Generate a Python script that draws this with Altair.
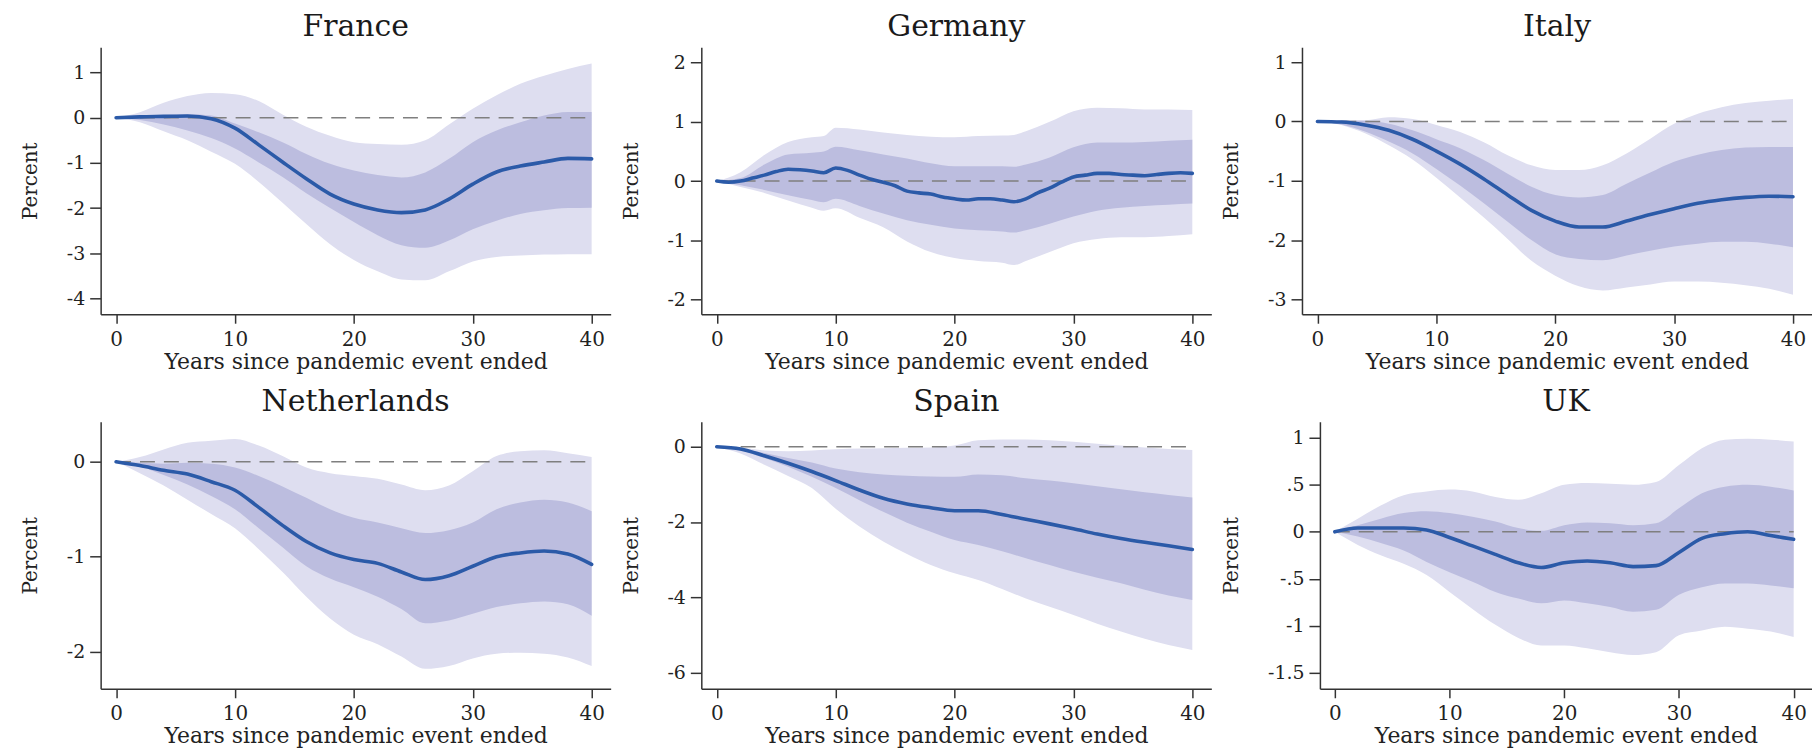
import altair as alt
import pandas as pd

# ---------------- data ----------------
YEARS = [0, 2, 4, 6, 8, 10, 12, 14, 16, 18, 20, 22, 24, 26, 28, 30, 32, 34, 36, 38, 40]

FR_MEAN = [0, 0.02, 0.03, 0.04, -0.02, -0.23, -0.6, -0.98, -1.35, -1.69, -1.91, -2.04, -2.1, -2.04, -1.8, -1.47, -1.2, -1.07, -0.98, -0.9, -0.91]
FR_IN_HI = [0, 0.02, 0.06, 0.08, 0.05, -0.13, -0.32, -0.54, -0.8, -1.02, -1.17, -1.27, -1.32, -1.21, -0.91, -0.54, -0.28, -0.1, 0.05, 0.13, 0.13]
FR_IN_LO = [0, -0.05, -0.15, -0.28, -0.45, -0.68, -0.99, -1.31, -1.67, -2.0, -2.31, -2.6, -2.82, -2.88, -2.72, -2.47, -2.28, -2.13, -2.05, -2.0, -1.99]
FR_OUT_HI = [0, 0.12, 0.33, 0.48, 0.55, 0.52, 0.37, 0.07, -0.2, -0.4, -0.54, -0.58, -0.6, -0.5, -0.15, 0.2, 0.5, 0.75, 0.93, 1.08, 1.2]
FR_OUT_LO = [0, -0.1, -0.3, -0.5, -0.75, -1.02, -1.42, -1.88, -2.35, -2.8, -3.15, -3.4, -3.58, -3.6, -3.4, -3.18, -3.08, -3.05, -3.03, -3.02, -3.02]

DE_LINE_X = list(range(0, 41))
DE_MEAN = [0, -0.02, 0.0, 0.05, 0.1, 0.16, 0.2, 0.19, 0.17, 0.14, 0.22, 0.18, 0.1, 0.03, -0.02, -0.08,
           -0.17, -0.2, -0.22, -0.27, -0.3, -0.32, -0.3, -0.3, -0.32, -0.35, -0.3, -0.2, -0.12, -0.02,
           0.07, 0.1, 0.13, 0.13, 0.11, 0.1, 0.09, 0.11, 0.13, 0.14, 0.13]
DE_BAND_X = [0, 2, 4, 6, 8, 9, 10, 12, 14, 16, 18, 20, 22, 24, 25, 26, 28, 30, 32, 34, 36, 38, 40]
DE_IN_HI = [0, 0.05, 0.28, 0.45, 0.48, 0.5, 0.58, 0.52, 0.45, 0.38, 0.3, 0.25, 0.25, 0.25, 0.24, 0.28, 0.4, 0.57, 0.65, 0.65, 0.66, 0.68, 0.7]
DE_IN_LO = [0, -0.07, -0.15, -0.24, -0.32, -0.36, -0.3, -0.42, -0.55, -0.66, -0.74, -0.8, -0.83, -0.85, -0.87, -0.83, -0.72, -0.6, -0.5, -0.45, -0.42, -0.4, -0.38]
DE_OUT_HI = [0, 0.15, 0.44, 0.66, 0.74, 0.76, 0.9, 0.87, 0.82, 0.78, 0.75, 0.74, 0.76, 0.77, 0.78, 0.84, 1.0, 1.18, 1.24, 1.23, 1.21, 1.21, 1.2]
DE_OUT_LO = [0, -0.1, -0.2, -0.33, -0.45, -0.5, -0.46, -0.62, -0.78, -1.02, -1.2, -1.3, -1.35, -1.38, -1.42, -1.35, -1.2, -1.05, -0.98, -0.95, -0.95, -0.93, -0.9]

IT_MEAN = [0, -0.01, -0.06, -0.15, -0.3, -0.5, -0.72, -0.97, -1.24, -1.5, -1.68, -1.78, -1.78, -1.68, -1.57, -1.47, -1.38, -1.32, -1.28, -1.26, -1.27]
IT_IN_HI = [0, 0.01, 0.01, -0.04, -0.15, -0.3, -0.45, -0.65, -0.88, -1.1, -1.24, -1.28, -1.24, -1.05, -0.86, -0.68, -0.56, -0.48, -0.44, -0.43, -0.43]
IT_IN_LO = [0, -0.05, -0.17, -0.34, -0.54, -0.8, -1.08, -1.38, -1.69, -2.0, -2.24, -2.32, -2.34, -2.26, -2.18, -2.11, -2.06, -2.03, -2.03, -2.06, -2.12]
IT_OUT_HI = [0, 0.02, 0.02, 0.07, 0.04, -0.06, -0.18, -0.35, -0.57, -0.74, -0.82, -0.82, -0.74, -0.54, -0.29, -0.04, 0.13, 0.24, 0.31, 0.35, 0.38]
IT_OUT_LO = [0, -0.06, -0.2, -0.4, -0.64, -0.95, -1.28, -1.62, -1.98, -2.35, -2.6, -2.78, -2.85, -2.8, -2.75, -2.7, -2.7, -2.72, -2.76, -2.82, -2.92]

NL_MEAN = [0, -0.04, -0.09, -0.13, -0.21, -0.3, -0.48, -0.67, -0.84, -0.96, -1.03, -1.07, -1.16, -1.24, -1.2, -1.1, -1.0, -0.96, -0.94, -0.97, -1.08]
NL_IN_HI = [0, -0.01, -0.02, -0.01, -0.02, -0.06, -0.15, -0.26, -0.38, -0.5, -0.59, -0.64, -0.7, -0.75, -0.72, -0.64, -0.5, -0.43, -0.4, -0.43, -0.52]
NL_IN_LO = [0, -0.05, -0.14, -0.24, -0.36, -0.5, -0.7, -0.9, -1.1, -1.23, -1.32, -1.42, -1.55, -1.7, -1.67, -1.6, -1.53, -1.49, -1.47, -1.5, -1.62]
NL_OUT_HI = [0, 0.05, 0.13, 0.2, 0.22, 0.24, 0.17, 0.06, -0.06, -0.12, -0.15, -0.18, -0.24, -0.3, -0.25, -0.1, 0.06, 0.11, 0.12, 0.09, 0.05]
NL_OUT_LO = [0, -0.12, -0.25, -0.4, -0.55, -0.7, -0.92, -1.16, -1.42, -1.65, -1.82, -1.92, -2.05, -2.18, -2.15, -2.07, -2.02, -2.01, -2.02, -2.06, -2.15]

ES_MEAN = [0, -0.06, -0.24, -0.44, -0.66, -0.9, -1.15, -1.37, -1.52, -1.62, -1.7, -1.7, -1.8, -1.93, -2.05, -2.18, -2.32, -2.44, -2.54, -2.63, -2.73]
ES_IN_HI = [0, -0.05, -0.17, -0.3, -0.42, -0.58, -0.68, -0.74, -0.77, -0.79, -0.8, -0.74, -0.76, -0.84, -0.9, -0.97, -1.05, -1.13, -1.21, -1.28, -1.35]
ES_IN_LO = [0, -0.1, -0.3, -0.53, -0.8, -1.1, -1.42, -1.73, -2.02, -2.26, -2.48, -2.61, -2.78, -2.96, -3.14, -3.32, -3.48, -3.63, -3.8, -3.95, -4.07]
ES_OUT_HI = [0, -0.03, -0.1, -0.12, -0.1, -0.07, -0.05, -0.04, -0.03, -0.02, 0.03, 0.17, 0.19, 0.19, 0.17, 0.13, 0.08, 0.03, -0.02, -0.06, -0.09]
ES_OUT_LO = [0, -0.18, -0.48, -0.78, -1.1, -1.65, -2.12, -2.52, -2.85, -3.14, -3.36, -3.54, -3.78, -4.03, -4.25, -4.47, -4.7, -4.91, -5.1, -5.27, -5.4]

UK_MEAN = [0, 0.04, 0.04, 0.04, 0.02, -0.06, -0.15, -0.24, -0.33, -0.38, -0.33, -0.31, -0.33, -0.37, -0.36, -0.22, -0.07, -0.02, 0.0, -0.04, -0.08]
UK_IN_HI = [0, 0.07, 0.14, 0.2, 0.22, 0.2, 0.16, 0.11, 0.04, 0.01, 0.07, 0.1, 0.09, 0.07, 0.09, 0.25, 0.41, 0.48, 0.5, 0.48, 0.44]
UK_IN_LO = [0, -0.05, -0.12, -0.2, -0.32, -0.43, -0.53, -0.64, -0.71, -0.76, -0.73, -0.76, -0.8, -0.85, -0.83, -0.67, -0.59, -0.55, -0.55, -0.57, -0.6]
UK_OUT_HI = [0, 0.14, 0.28, 0.39, 0.43, 0.45, 0.43, 0.37, 0.34, 0.41, 0.5, 0.52, 0.51, 0.5, 0.53, 0.71, 0.89, 0.98, 0.99, 0.98, 0.96]
UK_OUT_LO = [0, -0.14, -0.25, -0.34, -0.46, -0.64, -0.82, -0.99, -1.13, -1.21, -1.21, -1.24, -1.28, -1.31, -1.28, -1.1, -1.05, -1.01, -1.03, -1.06, -1.12]

X_TICKS = [0, 10, 20, 30, 40]
REF_X = [0, 40]
REF_Y = 0

# ---------------- style ----------------
FONT = "DejaVu Serif"
C_OUT = "#dedef0"
C_IN = "#bcbddf"
C_LINE = "#2b5aa8"
C_REF = "#7f7f7f"
X_DOMAIN = [-1.3, 41.6]


def panel(name, line_x, mean, band_x, in_lo, in_hi, out_lo, out_hi, ydom, yticks, width, height=268):
    band = pd.DataFrame({"x": band_x, "in_lo": in_lo, "in_hi": in_hi, "out_lo": out_lo, "out_hi": out_hi})
    line = pd.DataFrame({"x": line_x, "y": mean})
    ref = pd.DataFrame({"x": [REF_X[0]], "x2": [REF_X[1]], "y": [REF_Y]})
    xs = alt.Scale(domain=X_DOMAIN, nice=False, zero=False)
    ys = alt.Scale(domain=ydom, nice=False, zero=False)
    xax = alt.Axis(values=X_TICKS, title="Years since pandemic event ended", format="d")
    yax = alt.Axis(values=yticks, title="Percent", labelExpr="replace('' + datum.value, '0.', '.')")

    outer = alt.Chart(band).mark_area(color=C_OUT, interpolate="monotone", opacity=1).encode(
        x=alt.X("x:Q", scale=xs, axis=xax),
        y=alt.Y("out_lo:Q", scale=ys, axis=yax),
        y2="out_hi:Q",
    )
    inner = alt.Chart(band).mark_area(color=C_IN, interpolate="monotone", opacity=1).encode(
        x=alt.X("x:Q", scale=xs, axis=xax),
        y=alt.Y("in_lo:Q", scale=ys, axis=yax),
        y2="in_hi:Q",
    )
    zero = alt.Chart(ref).mark_rule(color=C_REF, strokeDash=[15, 9], strokeWidth=1.5).encode(
        x=alt.X("x:Q", scale=xs, axis=xax),
        x2="x2:Q",
        y=alt.Y("y:Q", scale=ys, axis=yax),
    )
    ln = alt.Chart(line).mark_line(color=C_LINE, strokeWidth=3.6, interpolate="monotone", strokeCap="round").encode(
        x=alt.X("x:Q", scale=xs, axis=xax),
        y=alt.Y("y:Q", scale=ys, axis=yax),
    )
    return alt.layer(outer, inner, zero, ln).properties(
        width=width,
        height=height,
        title=alt.Title(name, fontSize=30, font=FONT, fontWeight="normal", anchor="middle",
                        frame="group", baseline="alphabetic", offset=-19, color="#1a1a1a"),
    )


fr = panel("France", YEARS, FR_MEAN, YEARS, FR_IN_LO, FR_IN_HI, FR_OUT_LO, FR_OUT_HI,
           [-4.35, 1.56], [-4, -3, -2, -1, 0, 1], 512)
de = panel("Germany", DE_LINE_X, DE_MEAN, DE_BAND_X, DE_IN_LO, DE_IN_HI, DE_OUT_LO, DE_OUT_HI,
           [-2.25, 2.26], [-2, -1, 0, 1, 2], 512)
it = panel("Italy", YEARS, IT_MEAN, YEARS, IT_IN_LO, IT_IN_HI, IT_OUT_LO, IT_OUT_HI,
           [-3.25, 1.25], [-3, -2, -1, 0, 1], 512)
nl = panel("Netherlands", YEARS, NL_MEAN, YEARS, NL_IN_LO, NL_IN_HI, NL_OUT_LO, NL_OUT_HI,
           [-2.39, 0.42], [-2, -1, 0], 512)
es = panel("Spain", YEARS, ES_MEAN, YEARS, ES_IN_LO, ES_IN_HI, ES_OUT_LO, ES_OUT_HI,
           [-6.43, 0.66], [-6, -4, -2, 0], 512)
uk = panel("UK", YEARS, UK_MEAN, YEARS, UK_IN_LO, UK_IN_HI, UK_OUT_LO, UK_OUT_HI,
           [-1.67, 1.17], [-1.5, -1, -0.5, 0, 0.5, 1], 494)

row1 = alt.hconcat(fr, de, it, spacing=10)
row2 = alt.hconcat(nl, es, uk, spacing=10)

chart = (
    alt.vconcat(row1, row2, spacing=15)
    .properties(padding={"left": 12, "top": 3, "right": 0, "bottom": 0})
    .configure_view(stroke=None)
    .configure_axis(
        grid=False,
        domainColor="#333333",
        domainWidth=1.5,
        tickColor="#333333",
        tickWidth=1.5,
        labelFont=FONT,
        titleFont=FONT,
        labelColor="#222222",
        titleColor="#222222",
        titleFontWeight="normal",
    )
    .configure_axisX(tickSize=9, labelFontSize=20, labelPadding=6, titleFontSize=22,
                     titlePadding=2, labelFlush=False)
    .configure_axisY(tickSize=11, labelFontSize=19, labelPadding=5, titleFontSize=20,
                     titlePadding=26)
)

chart.save("out.html", embed_options={"renderer": "svg", "actions": False})
